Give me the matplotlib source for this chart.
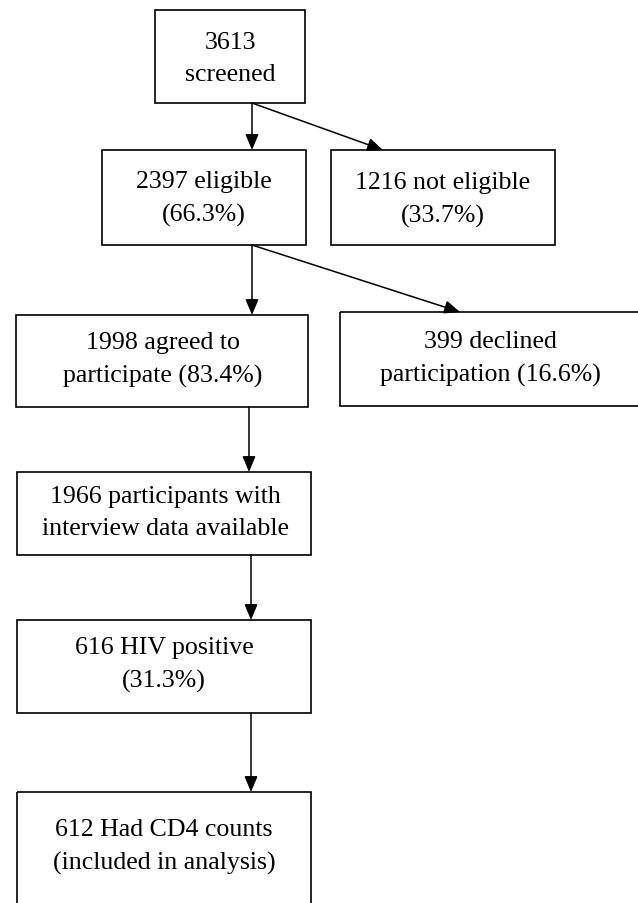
import matplotlib

matplotlib.use("Agg")
import matplotlib.pyplot as plt
from matplotlib.patches import Rectangle

# flowchart content
BOX_LABELS = [
    "3613\nscreened",
    "2397 eligible\n(66.3%)",
    "1216 not eligible\n(33.7%)",
    "1998 agreed to\nparticipate (83.4%)",
    "399 declined\nparticipation (16.6%)",
    "1966 participants with\ninterview data available",
    "616 HIV positive\n(31.3%)",
    "612 Had CD4 counts\n(included in analysis)",
]

# layout in pixel coordinates (x0, y0, x1, y1), y grows downwards
BOX_RECTS = [
    (155, 11, 305, 104),
    (102, 151, 306, 246),
    (331, 151, 555, 246),
    (16, 316, 308, 408),
    (340, 313, 645, 407),
    (17, 473, 311, 556),
    (17, 621, 311, 714),
    (17, 793, 311, 912),
]
TEXT_CENTERS = [
    (230, 59),
    (204, 199),
    (443, 200),
    (163, 360),
    (490, 359),
    (165, 513),
    (164, 665),
    (164, 847),
]
ARROWS = [
    ((252, 104), (252, 151)),
    ((252, 104), (383, 151)),
    ((252, 246), (252, 316)),
    ((252, 246), (460, 313)),
    ((249, 408), (249, 473)),
    ((251, 556), (251, 621)),
    ((251, 714), (251, 793)),
]

W, H = 638, 904
fig = plt.figure(figsize=(W / 100, H / 100), dpi=100)
ax = fig.add_axes([0, 0, 1, 1])
ax.set_xlim(0, W)
ax.set_ylim(H, 0)
ax.axis("off")

for (x0, y0, x1, y1) in BOX_RECTS:
    ax.add_patch(Rectangle((x0, y0), x1 - x0, y1 - y0, fill=False, edgecolor="black", linewidth=1.2))

for label, (cx, cy) in zip(BOX_LABELS, TEXT_CENTERS):
    ax.text(cx, cy, label, ha="center", va="center", fontsize=18.6, family="Liberation Serif",
            linespacing=1.58, color="black")

for start, end in ARROWS:
    ax.annotate(
        "",
        xy=end,
        xytext=start,
        arrowprops=dict(arrowstyle="-|>,head_length=0.95,head_width=0.4", mutation_scale=10,
                        color="black", lw=1.1, shrinkA=0, shrinkB=0),
    )

fig.savefig("out.png", dpi=100)
